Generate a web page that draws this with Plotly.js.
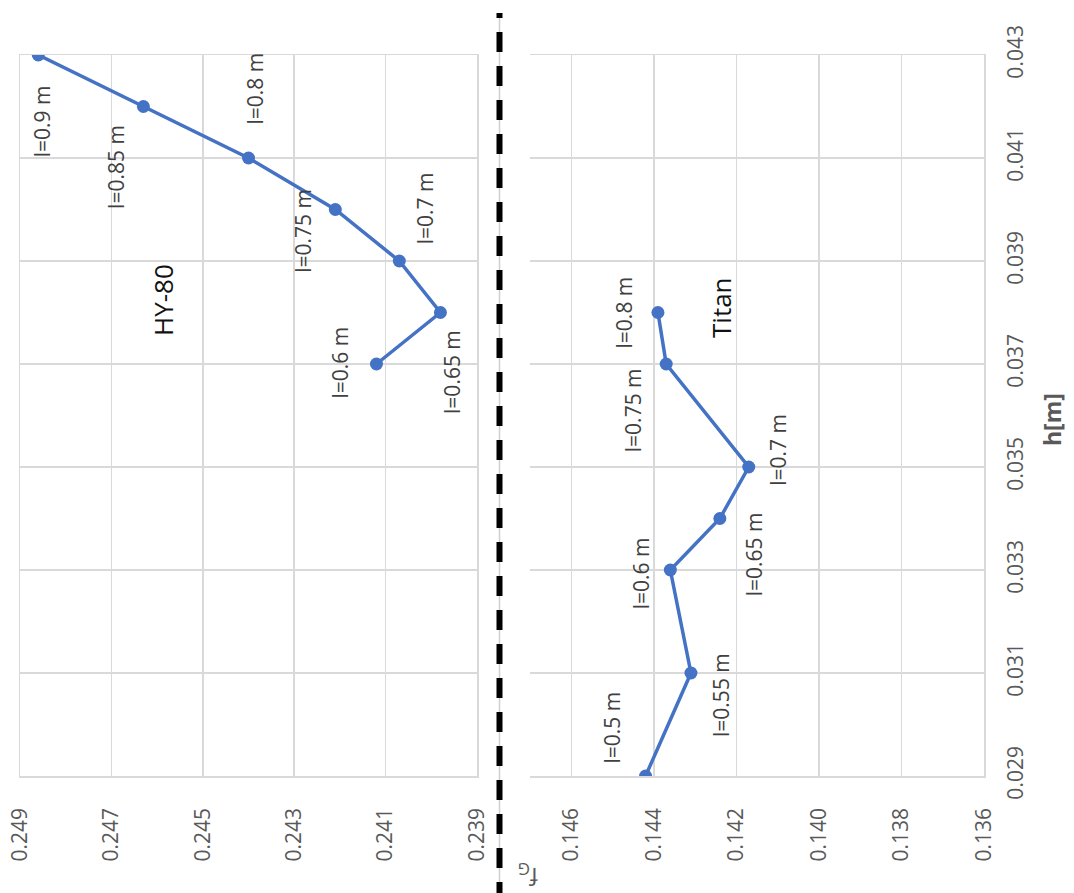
<!DOCTYPE html>
<html>
<head>
<meta charset="utf-8">
<script src="https://cdn.plot.ly/plotly-3.0.1.min.js"></script>
<style>html,body{margin:0;padding:0;background:#fff;}#chart{width:1074px;height:893px;}</style>
</head>
<body>
<div id="chart"></div>
<script>
// ---- data ----
const hyL = [0.6, 0.65, 0.7, 0.75, 0.8, 0.85, 0.9];
const hyH = [0.037, 0.038, 0.039, 0.040, 0.041, 0.042, 0.043];
const hyF = [0.2412, 0.2398, 0.2407, 0.2421, 0.2440, 0.2463, 0.2486];

const tiL = [0.5, 0.55, 0.6, 0.65, 0.7, 0.75, 0.8];
const tiH = [0.029, 0.031, 0.033, 0.034, 0.035, 0.037, 0.038];
const tiF = [0.1442, 0.1431, 0.1436, 0.1424, 0.1417, 0.1437, 0.1439];

const hTicks = [0.029, 0.031, 0.033, 0.035, 0.037, 0.039, 0.041, 0.043];
const hyTicks = [0.239, 0.241, 0.243, 0.245, 0.247, 0.249];
const tiTicks = [0.136, 0.138, 0.140, 0.142, 0.144, 0.146];

const seriesNames = ["HY-80", "Titan"];
const hTitle = "h[m]";
const fTitle = "f<sub>G</sub>";

// ---- label offsets (pixels, style only) ----
const hyOff = [[-36, 2], [11, -59], [26, 53], [-33, -21], [6, 69], [-28, -60], [4, -66]];
const tiOff = [[-34, 48], [30, -22], [-29, -3], [34, -36], [29, 17], [-33, -46], [-34, 0]];

const W = 1074, H = 893;
const px = v => v / W, py = v => (H - v) / H;

const blue = '#4472C4', grid = '#d9d9d9', tickCol = '#595959';
const FONT = '"Open Sans", "Noto Sans", sans-serif';

const traces = [
  { x: hyF, y: hyH, xaxis: 'x', yaxis: 'y', mode: 'lines+markers', name: seriesNames[0],
    line: { color: blue, width: 3.5 }, marker: { color: blue, size: 13 } },
  { x: tiF, y: tiH, xaxis: 'x2', yaxis: 'y2', mode: 'lines+markers', name: seriesNames[1],
    line: { color: blue, width: 3.5 }, marker: { color: blue, size: 13 } }
];

const annotations = [];
const lblFont = { family: FONT, size: 21, color: '#404040' };
hyL.forEach((l, i) => annotations.push({
  xref: 'x', yref: 'y', x: hyF[i], y: hyH[i], text: 'l=' + l + ' m', showarrow: false,
  xanchor: 'center', yanchor: 'middle',
  textangle: -90, xshift: hyOff[i][0], yshift: hyOff[i][1], font: lblFont
}));
tiL.forEach((l, i) => annotations.push({
  xref: 'x2', yref: 'y2', x: tiF[i], y: tiH[i], text: 'l=' + l + ' m', showarrow: false,
  xanchor: 'center', yanchor: 'middle',
  textangle: -90, xshift: tiOff[i][0], yshift: tiOff[i][1], font: lblFont
}));
annotations.push({ xref: 'paper', yref: 'paper', x: px(163), y: py(300), text: seriesNames[0],
  xanchor: 'center', yanchor: 'middle',
  showarrow: false, textangle: -90, font: { family: FONT, size: 26, color: '#111' } });
annotations.push({ xref: 'paper', yref: 'paper', x: px(721), y: py(308), text: seriesNames[1],
  xanchor: 'center', yanchor: 'middle',
  showarrow: false, textangle: -90, font: { family: FONT, size: 26, color: '#111' } });
annotations.push({ xref: 'paper', yref: 'paper', x: px(1052), y: py(420), text: '<b>' + hTitle + '</b>',
  xanchor: 'center', yanchor: 'middle',
  showarrow: false, textangle: -90, font: { family: FONT, size: 23, color: tickCol } });
annotations.push({ xref: 'paper', yref: 'paper', x: px(528), y: py(876), text: fTitle,
  xanchor: 'center', yanchor: 'middle',
  showarrow: false, textangle: 180, font: { family: FONT, size: 24, color: tickCol } });

const axX = {
  showgrid: true, gridcolor: grid, gridwidth: 1.5, zeroline: false,
  showline: true, linecolor: grid, linewidth: 1.5, ticks: '',
  tickangle: -90, tickformat: '.3f', ticklabelstandoff: 22,
  tickfont: { family: FONT, size: 21, color: tickCol }
};

const layout = {
  width: W, height: H, margin: { l: 0, r: 0, t: 0, b: 0 },
  paper_bgcolor: '#fff', plot_bgcolor: '#fff', showlegend: false,
  xaxis: Object.assign({}, axX, { domain: [px(20), px(477)], range: [0.249, 0.239],
    tickmode: 'array', tickvals: hyTicks, mirror: true, anchor: 'y' }),
  xaxis2: Object.assign({}, axX, { domain: [px(530), px(984)], range: [0.147, 0.136],
    tickmode: 'array', tickvals: tiTicks, mirror: true, anchor: 'y2' }),
  yaxis: { domain: [py(776), py(55)], range: [0.029, 0.043], tickmode: 'array', tickvals: hTicks,
    showticklabels: false, showgrid: true, gridcolor: grid, gridwidth: 1.5, zeroline: false,
    showline: true, mirror: true, linecolor: grid, linewidth: 1.5, ticks: '', anchor: 'x' },
  yaxis2: { domain: [py(776), py(55)], range: [0.029, 0.043], tickmode: 'array', tickvals: hTicks,
    tickformat: '.3f', side: 'right', anchor: 'x2', tickangle: -90, ticklabelstandoff: 12,
    tickfont: { family: FONT, size: 21, color: tickCol },
    showgrid: true, gridcolor: grid, gridwidth: 1.5, zeroline: false,
    showline: true, mirror: false, linecolor: grid, linewidth: 1.5, ticks: '' },
  shapes: [
    { type: 'line', xref: 'paper', yref: 'paper', x0: px(499.5), x1: px(499.5), y0: py(13), y1: 0,
      line: { color: '#cfcfcf', width: 1.5 } },
    { type: 'line', xref: 'paper', yref: 'paper', x0: px(499.5), x1: px(499.5), y0: py(13), y1: py(18),
      line: { color: '#000', width: 6 } },
    { type: 'line', xref: 'paper', yref: 'paper', x0: px(499.5), x1: px(499.5), y0: py(32), y1: -0.02,
      line: { color: '#000', width: 6, dash: '20px,14px' } }
  ],
  annotations: annotations
};

Plotly.newPlot('chart', traces, layout, { displayModeBar: false, staticPlot: true });
</script>
</body>
</html>
